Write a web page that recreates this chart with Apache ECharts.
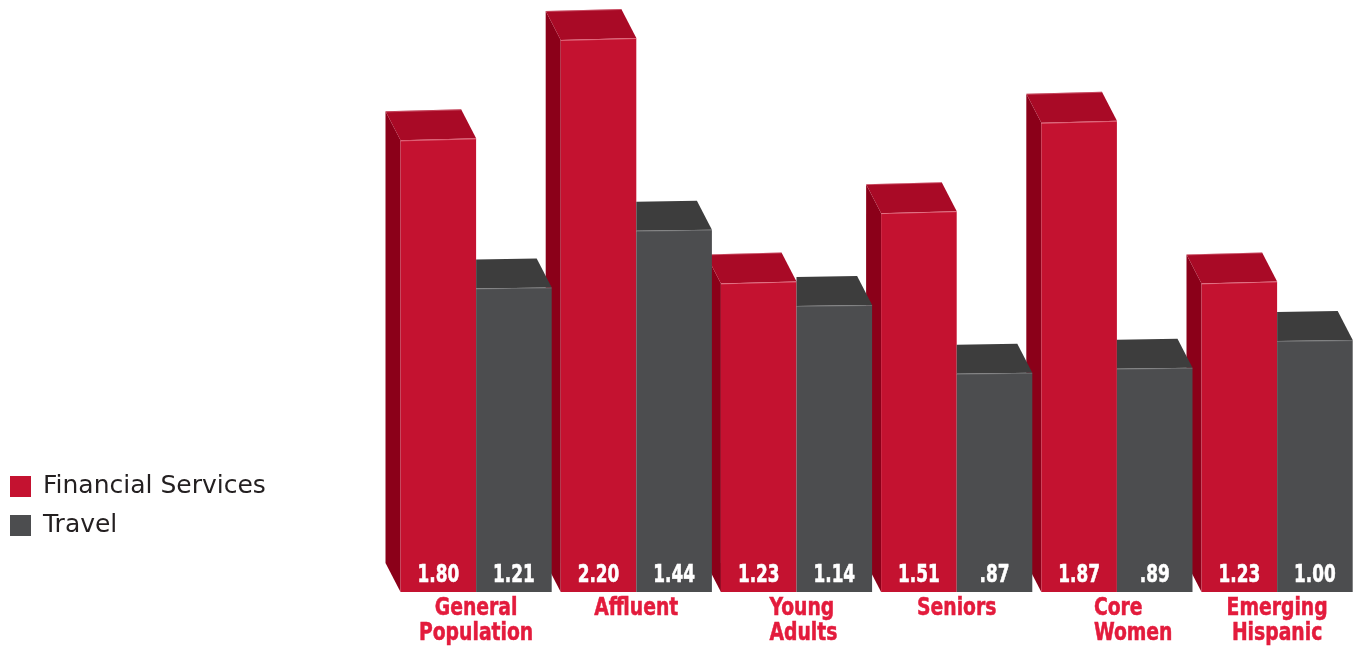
<!DOCTYPE html>
<html>
<head>
<meta charset="utf-8">
<script src="https://cdn.jsdelivr.net/npm/echarts@6/dist/echarts.min.js"></script>
<style>html,body{margin:0;padding:0;background:#fff;}#chart{width:1354px;height:648px;}</style>
</head>
<body>
<div id="chart"></div>
<script>
const categories = ['General Population', 'Affluent', 'Young Adults', 'Seniors', 'Core Women', 'Emerging Hispanic'];
const financialServices = [1.80, 2.20, 1.23, 1.51, 1.87, 1.23];
const travel = [1.21, 1.44, 1.14, 0.87, 0.89, 1.00];
const seriesNames = ['Financial Services', 'Travel'];

const RED = {front: '#c41230', top: '#a90a26', side: '#8b0019'};
const GRAY = {front: '#4c4d4f', top: '#3d3d3d'};
const LABEL_RED = '#e31b3c';
const DX = 15, DY = 29;
const NARROW = '"DejaVu Sans Condensed", "DejaVu Sans", sans-serif';
// a few category labels are left-aligned in the original artwork
const labelLeftAligned = {'Young Adults': -27, 'Core Women': -23};

function fmt(v) {
  let s = v.toFixed(2);
  if (s.startsWith('0')) s = s.slice(1);
  return s;
}

function valueText(v, x, y) {
  return {type: 'text', x: x, y: y, scaleX: 0.75, scaleY: 1,
    style: {text: fmt(v), x: 0, y: 0, align: 'center', verticalAlign: 'middle', fill: '#ffffff',
      stroke: '#ffffff', lineWidth: 0.6, font: 'bold 25px ' + NARROW}};
}

function makeRender(which) {
  return function (params, api) {
    const idx = api.value(0);
    const v = api.value(1);
    const top = api.coord([idx, v]);
    const base = api.coord([idx, 0]);
    const catW = api.size([1, 0])[0];
    const barW = catW * 75.5 / 160;
    const cx = top[0];
    const yt = top[1], yb = base[1];
    const children = [];
    if (which === 0) {
      const xl = cx - barW, xr = cx;
      children.push({type: 'polygon', shape: {points: [[xl - DX, yt - DY], [xl, yt], [xl, yb], [xl - DX, yb - DY]]}, style: {fill: RED.side}});
      children.push({type: 'polygon', shape: {points: [[xl - DX, yt - DY], [xr - DX, yt - DY - 2], [xr, yt - 2], [xl, yt]]}, style: {fill: RED.top}});
      children.push({type: 'polygon', shape: {points: [[xl, yt], [xr, yt - 2], [xr, yb], [xl, yb]]}, style: {fill: RED.front}});
      children.push({type: 'line', shape: {x1: xl, y1: yt + 0.5, x2: xr, y2: yt - 1.5}, style: {stroke: 'rgba(255,190,200,0.45)', lineWidth: 1}});
      children.push({type: 'line', shape: {x1: xl - DX, y1: yt - DY + 0.5, x2: xr - DX, y2: yt - DY - 1.5}, style: {stroke: 'rgba(255,190,200,0.35)', lineWidth: 1}});
      children.push(valueText(v, xl + barW / 2, yb - 17));
    } else {
      const xl = cx, xr = cx + barW;
      children.push({type: 'polygon', shape: {points: [[xl, yt - DY], [xr - DX, yt - DY - 1], [xr, yt - 1], [xl, yt]]}, style: {fill: GRAY.top}});
      children.push({type: 'polygon', shape: {points: [[xl, yt], [xr, yt - 1], [xr, yb], [xl, yb]]}, style: {fill: GRAY.front}});
      children.push({type: 'line', shape: {x1: xl, y1: yt + 0.5, x2: xr, y2: yt - 0.5}, style: {stroke: 'rgba(255,255,255,0.18)', lineWidth: 1}});
      children.push(valueText(v, xl + barW / 2, yb - 17));
      // category label under the pair
      const name = categories[idx];
      const lines = name.split(' ').join('\n');
      const leftOff = labelLeftAligned[name];
      const isLeft = leftOff !== undefined;
      children.push({type: 'text', x: isLeft ? cx + leftOff : cx, y: yb + 4, scaleX: 0.87, scaleY: 1,
        style: {text: lines, x: 0, y: 0, align: isLeft ? 'left' : 'center', verticalAlign: 'top',
          fill: LABEL_RED, stroke: LABEL_RED, lineWidth: 0.5, font: 'bold 24px ' + NARROW, lineHeight: 25}});
    }
    return {type: 'group', children: children};
  };
}

const chart = echarts.init(document.getElementById('chart'), null, {renderer: 'canvas'});
chart.setOption({
  animation: false,
  backgroundColor: '#ffffff',
  grid: {left: 396, top: 40, right: 0, height: 552, containLabel: false},
  legend: {
    data: seriesNames,
    orient: 'vertical',
    left: 10,
    top: 474,
    padding: 0,
    itemWidth: 21,
    itemHeight: 21,
    itemGap: 14,
    icon: 'rect',
    textStyle: {fontFamily: '"DejaVu Sans", sans-serif', fontSize: 25, lineHeight: 21, color: '#231f20', padding: [0, 0, 0, 7]}
  },
  xAxis: {
    type: 'value',
    min: -0.5,
    max: 5.48,
    show: false,
    splitLine: {show: false}
  },
  yAxis: {type: 'value', min: 0, max: 2.2, show: false},
  series: [
    {name: seriesNames[0], type: 'custom', itemStyle: {color: RED.front}, renderItem: makeRender(0),
     data: financialServices.map((v, i) => [i, v]), encode: {x: 0, y: 1}, clip: false},
    {name: seriesNames[1], type: 'custom', itemStyle: {color: GRAY.front}, renderItem: makeRender(1),
     data: travel.map((v, i) => [i, v]), encode: {x: 0, y: 1}, clip: false}
  ]
});
</script>
</body>
</html>
